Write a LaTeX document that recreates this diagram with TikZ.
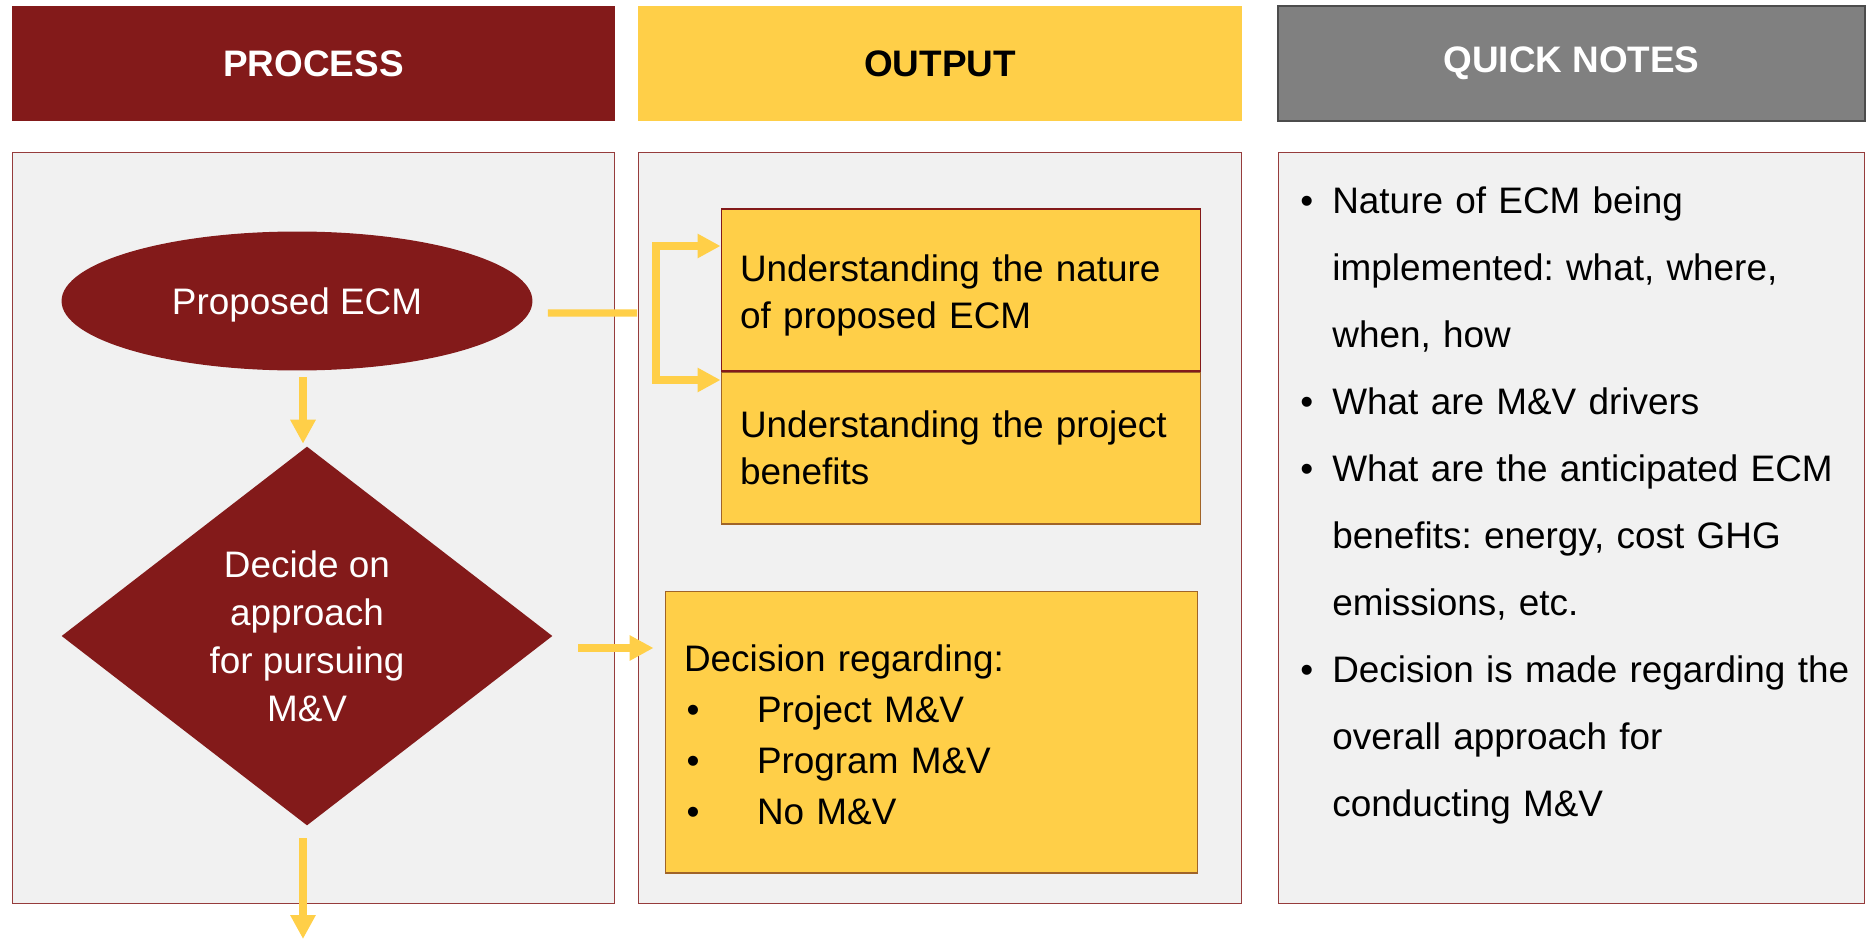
\documentclass[tikz,border=0pt]{standalone}
\usepackage{fontspec}
\setmainfont{Liberation Sans}
\usetikzlibrary{arrows.meta,positioning,shapes.geometric}

\definecolor{mvred}{RGB}{131,26,26}
\definecolor{mvyellow}{RGB}{255,207,72}
\definecolor{mvgray}{RGB}{128,128,128}
\definecolor{mvpanel}{RGB}{241,241,241}
\definecolor{mvbrown}{RGB}{160,100,40}
\newcommand{\notedot}{\leavevmode\llap{•\hspace{0.38cm}}}
\newcommand{\boxdot}{\hspace*{0.05cm}\makebox[1.41cm][l]{•}}
\frenchspacing

\begin{document}
\begin{tikzpicture}[x=0.02cm, y=-0.02cm,
  head/.style={minimum height=2.3cm, inner sep=0, font=\fontsize{21}{25}\selectfont\bfseries},
  panel/.style={draw=mvred!85, fill=mvpanel, line width=0.6pt, minimum height=15.04cm, inner sep=0},
  procbox/.style={fill=mvred, text=white, inner sep=0, font=\fontsize{21}{27.3}\selectfont},
  outbox/.style={draw=mvred, fill=mvyellow, line width=0.6pt, align=left, inner xsep=0.38cm, inner ysep=0, font=\fontsize{21}{26.7}\selectfont},
  link/.style={draw=mvyellow, line width=4pt},
  conn/.style={link, -{Triangle[length=0.48cm,width=0.48cm]}}]

\useasboundingbox (0,0) rectangle (1872,939);

\node[head, fill=mvred, text=white, minimum width=12.06cm] (prochead) at (313.5,63.5) {PROCESS};
\node[head, fill=mvyellow, minimum width=12.08cm] (outhead) at (940,63.5) {OUTPUT};
\node[head, fill=mvgray, draw=black!70, line width=1pt, text=white, minimum width=11.74cm] (notehead) at (1571.5,63.5) {QUICK NOTES};

\node[panel, minimum width=12.06cm] (procpanel) at (313.5,528) {};
\node[panel, minimum width=12.08cm] (outpanel) at (940,528) {};
\node[panel, minimum width=11.74cm] (notepanel) at (1571.5,528) {};

\node[procbox, ellipse, text height=0.7cm, minimum width=9.42cm, minimum height=2.78cm] (propose) at (297,301) {Proposed ECM};
\node[procbox, diamond, aspect=1.3, align=center, minimum width=9.82cm, minimum height=7.58cm] (decide) at (307,636) {Decide on\\approach\\for pursuing\\M\&V};

\node[outbox, text width=8.84cm, text height=0.74cm, minimum height=3.24cm] (understand) at (961,290) {Understanding the nature\\of proposed ECM};
\node[outbox, draw=mvbrown, text width=8.84cm, minimum height=3.04cm, below=0pt of understand] (benefit) {Understanding the project\\benefits};
\node[outbox, draw=mvbrown, text width=9.9cm, text height=0.64cm, minimum height=5.64cm, font=\fontsize{21}{29}\selectfont] (decision) at (931.5,732) {Decision regarding:\\
\boxdot Project M\&V\\
\boxdot Program M\&V\\
\boxdot No M\&V};

\node[anchor=base west, text width=10.4cm, align=left, inner sep=0, font=\fontsize{21}{38.1}\selectfont] (notes) at (1332,214) {\notedot Nature of ECM being\\
implemented: what, where,\\
when, how\\
\notedot What are M\&V drivers\\
\notedot What are the anticipated ECM\\
benefits: energy, cost GHG\\
emissions, etc.\\
\notedot Decision is made regarding the\\
overall approach for\\
conducting M\&V};

\coordinate (split) at (637,313);
\coordinate (forktop) at (656,246);
\coordinate (forkbot) at (656,380);
\coordinate (decmid) at ([yshift=-0.24cm]decide.east);
\coordinate (exit) at (303,939);

\draw[link, shorten <=0.3cm] ([yshift=-0.24cm]propose.east) -- (split);
\draw[link, {Triangle[length=0.46cm,width=0.46cm]}-{Triangle[length=0.46cm,width=0.46cm]}] (forktop -| understand.west) -- (forktop) -- (forkbot) -- (forkbot -| benefit.west);
\draw[conn, shorten <=0.13cm, shorten >=0.05cm] (propose.south -| exit) -- (decide.north -| exit);
\draw[conn, shorten <=0.25cm] (decide.south -| exit) -- (exit);
\draw[conn, shorten <=0.51cm, shorten >=0.22cm] (decmid) -- (decmid -| decision.west);

\end{tikzpicture}
\end{document}
